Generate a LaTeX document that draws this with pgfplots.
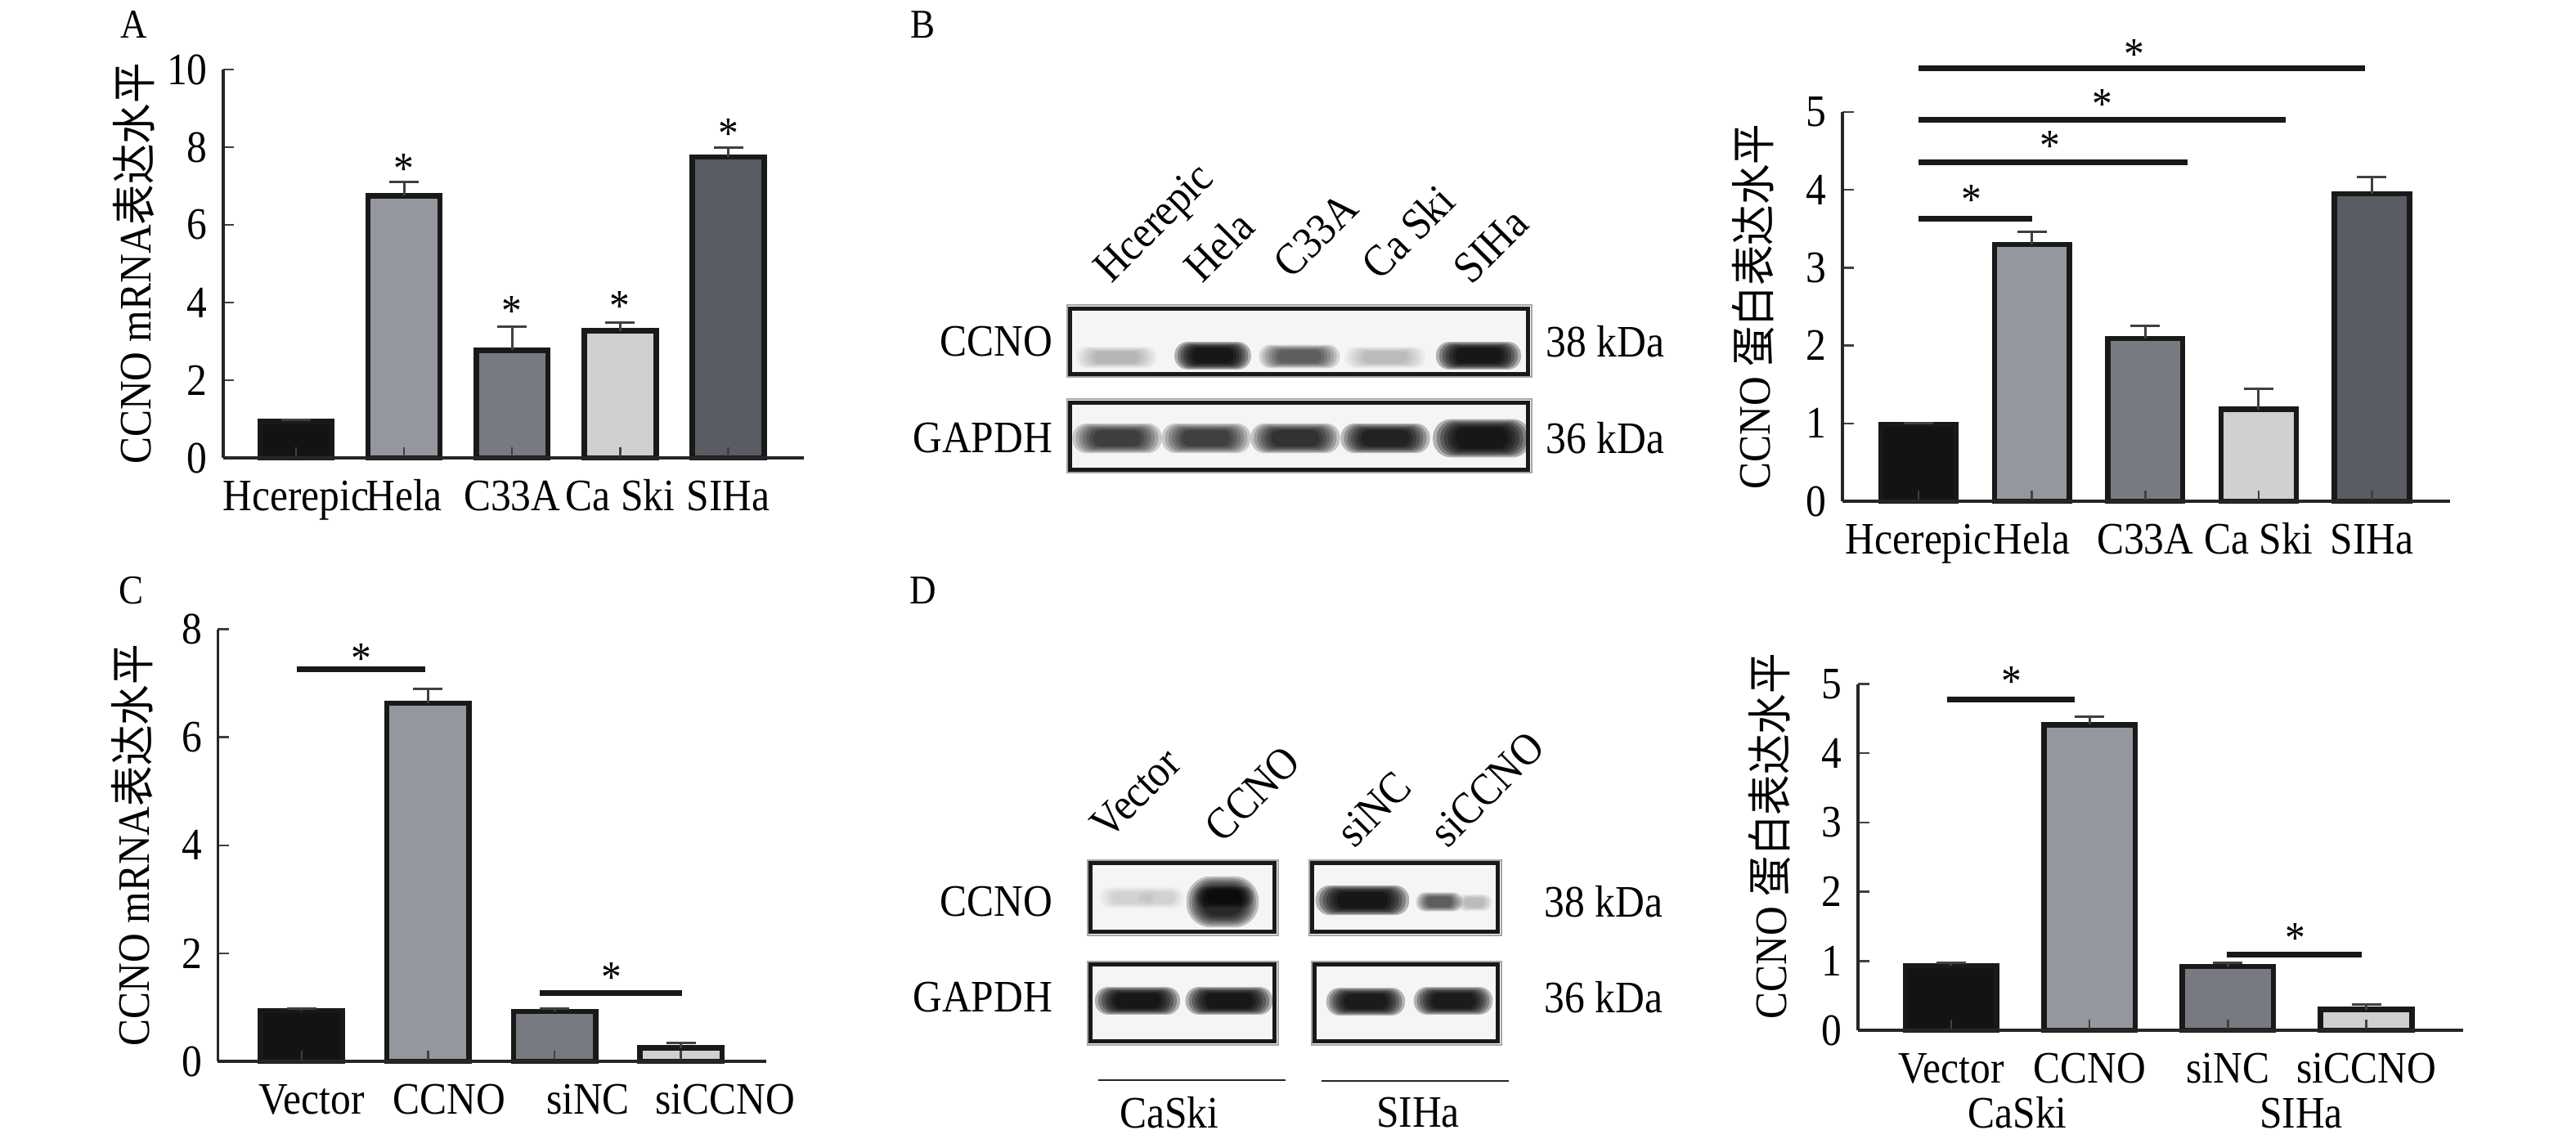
\documentclass[border=0pt]{standalone}
\usepackage{pgfplots}
\pgfplotsset{compat=1.18}
\usepackage{fontspec}
\setmainfont{Liberation Serif}[FakeStretch=0.9]
\newfontfamily\cjk{Noto Sans CJK SC}[FakeStretch=0.9]
\definecolor{c1}{HTML}{131313}
\definecolor{c2}{HTML}{94979E}
\definecolor{c3}{HTML}{777A81}
\definecolor{c4}{HTML}{CFD0D0}
\definecolor{c5}{HTML}{595C63}
\newcommand\ff{\fontsize{11pt}{13pt}\selectfont}
\newcommand\sg[2]{\node[anchor=base,yshift=-5.1pt,inner sep=0pt,font=\ff] at (axis cs:#1,#2) {*};}
% soft blot band: centre x, centre y, half width, half height, intensity (px units)
\newcommand\band[5]{%
  \pgfmathsetmacro\op{#5*0.28}%
  \foreach \k in {0,...,6}{%
    \pgfmathsetmacro\f{1.3-0.1*\k}%
    \pgfmathsetmacro\rr{abs(#4)*\f*0.19}%
    \fill[black, opacity=\op, rounded corners=\rr pt] ({#1-#3*\f},{#2-#4*\f}) rectangle ({#1+#3*\f},{#2+#4*\f});}}
\newcommand\blotbox[4]{\fill[black!4] (#1,#2) rectangle (#3,#4);}
\newcommand\blotframe[4]{\draw[black!35, line width=0.4pt] (#1-4,#2-4) rectangle (#3+4,#4+4);
  \draw[black!90, line width=1pt] (#1,#2) rectangle (#3,#4);}
\pgfplotsset{
  bb/.style={ybar, bar shift=0pt, draw=black!90, line width=1.3pt, fill=#1,
    error bars/y dir=plus, error bars/y explicit,
    error bars/error bar style={line width=0.6pt, black!75, solid},
    error bars/error mark options={rotate=90, mark size=3.6pt, line width=0.6pt, black!75}},
  sig/.style={no marks, line width=1.4pt, black!90},
  myax/.style={scale only axis, axis on top, clip=false, anchor=south west,
    axis x line*=bottom, axis y line*=left,
    axis line style={line width=0.7pt, black!85},
    tick align=inside, major tick length=2.7pt,
    tick style={line width=0.5pt, black!75},
    ymin=0, ticklabel style={font=\ff},
    /pgf/number format/assume math mode=true,
    xticklabel style={anchor=base, yshift=-12.9pt},
    label style={font=\ff}},
}
\begin{document}
\ff
\begin{tikzpicture}
\path[use as bounding box] (0pt,0pt) rectangle (630pt,-278.6pt);

% ---------- Panel A ----------
\begin{axis}[myax, at={(54.6pt,-112pt)}, width=142pt, height=95pt,
  xmin=-0.673, xmax=4.70, ymax=10, ytick={0,2,4,6,8,10}, xtick={0,1,2,3,4},
  xticklabels={Hcerepic,Hela,C33A,Ca Ski,SIHa}, bar width=0.665,
  ylabel={CCNO mRNA{\cjk 表达水平}},
  ylabel style={at={(axis description cs:-0.154,0.5)}, anchor=center}]
\addplot[bb=c1] coordinates {(0,0.94) +- (0,0.03)};
\addplot[bb=c2] coordinates {(1,6.75) +- (0,0.35)};
\addplot[bb=c3] coordinates {(2,2.77) +- (0,0.60)};
\addplot[bb=c4] coordinates {(3,3.27) +- (0,0.22)};
\addplot[bb=c5] coordinates {(4,7.75) +- (0,0.25)};
\sg{1}{7.6}\sg{2}{3.93}\sg{3}{4.07}\sg{4}{8.5}
\end{axis}

% ---------- Panel B chart ----------
\begin{axis}[myax, at={(450.6pt,-122.6pt)}, width=148.6pt, height=95.2pt,
  xmin=-0.672, xmax=4.69, ymax=5, ytick={0,1,2,3,4,5}, xtick={0,1,2,3,4},
  xticklabels={Hcerepic,Hela,C33A,Ca Ski,SIHa}, bar width=0.663,
  ylabel={CCNO {\cjk 蛋白表达水平}},
  ylabel style={at={(axis description cs:-0.147,0.5)}, anchor=center}]
\addplot[bb=c1] coordinates {(0,0.985) +- (0,0.02)};
\addplot[bb=c2] coordinates {(1,3.30) +- (0,0.16)};
\addplot[bb=c3] coordinates {(2,2.09) +- (0,0.16)};
\addplot[bb=c4] coordinates {(3,1.18) +- (0,0.26)};
\addplot[bb=c5] coordinates {(4,3.95) +- (0,0.21)};
\addplot[sig] coordinates {(0,3.63) (1,3.63)};
\addplot[sig] coordinates {(0,4.35) (2.37,4.35)};
\addplot[sig] coordinates {(0,4.90) (3.24,4.90)};
\addplot[sig] coordinates {(0,5.56) (3.94,5.56)};
\sg{0.47}{3.95}\sg{1.16}{4.64}\sg{1.62}{5.18}\sg{1.90}{5.82}
\end{axis}

% ---------- Panel C ----------
\begin{axis}[myax, at={(53.3pt,-259.6pt)}, width=134.1pt, height=105.7pt,
  xmin=-0.662, xmax=3.675, ymax=8, ytick={0,2,4,6,8}, xtick={0,1,2,3},
  xticklabels={\hspace*{4.8pt}Vector,\hspace*{10.4pt}CCNO,\hspace*{16.4pt}siNC,\hspace*{21.6pt}siCCNO},
  bar width=0.65,
  ylabel={CCNO mRNA{\cjk 表达水平}},
  ylabel style={at={(axis description cs:-0.157,0.5)}, anchor=center}]
\addplot[bb=c1] coordinates {(0,0.94) +- (0,0.04)};
\addplot[bb=c2] coordinates {(1,6.63) +- (0,0.27)};
\addplot[bb=c3] coordinates {(2,0.92) +- (0,0.05)};
\addplot[bb=c4] coordinates {(3,0.25) +- (0,0.09)};
\addplot[sig] coordinates {(-0.04,7.26) (0.98,7.26)};
\addplot[sig] coordinates {(1.88,1.26) (3.01,1.26)};
\sg{0.47}{7.57}\sg{2.45}{1.66}
\end{axis}

% ---------- Panel D chart ----------
\begin{axis}[myax, at={(454.4pt,-252pt)}, width=148pt, height=84.7pt,
  xmin=-0.673, xmax=3.70, ymax=5, ytick={0,1,2,3,4,5}, xtick={0,1,2,3},
  xticklabels={Vector,CCNO,siNC,siCCNO}, bar width=0.66,
  ylabel={CCNO {\cjk 蛋白表达水平}},
  ylabel style={at={(axis description cs:-0.146,0.56)}, anchor=center}]
\addplot[bb=c1] coordinates {(0,0.93) +- (0,0.04)};
\addplot[bb=c2] coordinates {(1,4.41) +- (0,0.12)};
\addplot[bb=c3] coordinates {(2,0.92) +- (0,0.05)};
\addplot[bb=c4] coordinates {(3,0.30) +- (0,0.07)};
\addplot[sig] coordinates {(-0.03,4.77) (0.89,4.77)};
\addplot[sig] coordinates {(1.99,1.09) (2.97,1.09)};
\sg{0.435}{5.12}\sg{2.49}{1.42}
\node[font=\ff, anchor=base, yshift=-23.9pt] at (axis cs:0.48,0) {CaSki};
\node[font=\ff, anchor=base, yshift=-23.9pt] at (axis cs:2.53,0) {SIHa};
\end{axis}

% ---------- Panel letters, blots ----------
\begin{scope}[x=0.2pt, y=-0.2pt]
\node[font=\fontsize{10pt}{12pt}\selectfont] at (164,30) {A};
\node[font=\fontsize{10pt}{12pt}\selectfont] at (1129,30) {B};
\node[font=\fontsize{10pt}{12pt}\selectfont] at (161,722) {C};
\node[font=\fontsize{10pt}{12pt}\selectfont] at (1129,722) {D};

% B blot
\blotbox{1309}{377}{1869}{457}
\begin{scope}
\clip (1309,377) rectangle (1869,457);
\band{1365}{437}{38}{10}{0.14}
\band{1483}{435}{36}{13}{1.0}
\band{1589}{436}{38}{11}{0.45}
\band{1694}{437}{38}{10}{0.12}
\band{1808}{435}{40}{13}{1.0}
\end{scope}
\blotframe{1309}{377}{1869}{457}
\blotbox{1309}{492}{1869}{574}
\begin{scope}
\clip (1309,492) rectangle (1869,574);
\band{1366}{536}{42}{14}{0.62}
\band{1475}{536}{42}{14}{0.6}
\band{1584}{536}{42}{14}{0.72}
\band{1694}{536}{42}{14}{0.85}
\band{1812}{536}{46}{18}{1.0}
\end{scope}
\blotframe{1309}{492}{1869}{574}
\node[anchor=east, inner sep=0pt] at (1288,418) {CCNO};
\node[anchor=east, inner sep=0pt] at (1288,536) {GAPDH};
\node[anchor=west, inner sep=0pt] at (1890,418) {38 kDa};
\node[anchor=west, inner sep=0pt] at (1890,536) {36 kDa};
\node[anchor=base west, inner sep=0pt, rotate=45] at (1359,348) {Hcerepic};
\node[anchor=base west, inner sep=0pt, rotate=45] at (1470,348) {Hela};
\node[anchor=base west, inner sep=0pt, rotate=45] at (1579,343) {C33A};
\node[anchor=base west, inner sep=0pt, rotate=45] at (1687,345) {Ca Ski};
\node[anchor=base west, inner sep=0pt, rotate=45] at (1799,350) {SIHa};

% D blots
\blotbox{1334}{1056}{1559}{1140}
\begin{scope}
\clip (1334,1056) rectangle (1559,1140);
\band{1378}{1098}{26}{10}{0.07}
\band{1420}{1098}{22}{10}{0.07}
\band{1495}{1103}{34}{24}{0.8}
\band{1497}{1097}{28}{10}{0.5}
\end{scope}
\blotframe{1334}{1056}{1559}{1140}
\blotbox{1605}{1056}{1832}{1140}
\begin{scope}
\clip (1605,1056) rectangle (1832,1140);
\band{1666}{1101}{44}{14}{1.0}
\band{1760}{1103}{22}{9}{0.45}
\band{1803}{1104}{17}{8}{0.12}
\end{scope}
\blotframe{1605}{1056}{1832}{1140}
\blotbox{1334}{1180}{1559}{1274}
\begin{scope}
\clip (1334,1180) rectangle (1559,1274);
\band{1391}{1224}{40}{13}{1.0}
\band{1503}{1224}{41}{13}{1.0}
\end{scope}
\blotframe{1334}{1180}{1559}{1274}
\blotbox{1608}{1180}{1832}{1274}
\begin{scope}
\clip (1608,1180) rectangle (1832,1274);
\band{1670}{1225}{37}{13}{0.95}
\band{1777}{1224}{37}{13}{0.95}
\end{scope}
\blotframe{1608}{1180}{1832}{1274}
\node[anchor=east, inner sep=0pt] at (1288,1103) {CCNO};
\node[anchor=east, inner sep=0pt] at (1288,1220) {GAPDH};
\node[anchor=west, inner sep=0pt] at (1888,1103) {38 kDa};
\node[anchor=west, inner sep=0pt] at (1888,1220) {36 kDa};
\node[anchor=base west, inner sep=0pt, rotate=45] at (1355,1029) {Vector};
\node[anchor=base west, inner sep=0pt, rotate=45] at (1495,1033) {CCNO};
\node[anchor=base west, inner sep=0pt, rotate=45] at (1656,1039) {siNC};
\node[anchor=base west, inner sep=0pt, rotate=45] at (1770,1039) {siCCNO};
\draw[line width=0.55pt, black!85] (1343,1321) -- (1572,1321);
\draw[line width=0.55pt, black!85] (1616,1322) -- (1845,1322);
\node at (1430,1361) {CaSki};
\node at (1734,1361) {SIHa};
\end{scope}
\end{tikzpicture}
\end{document}
